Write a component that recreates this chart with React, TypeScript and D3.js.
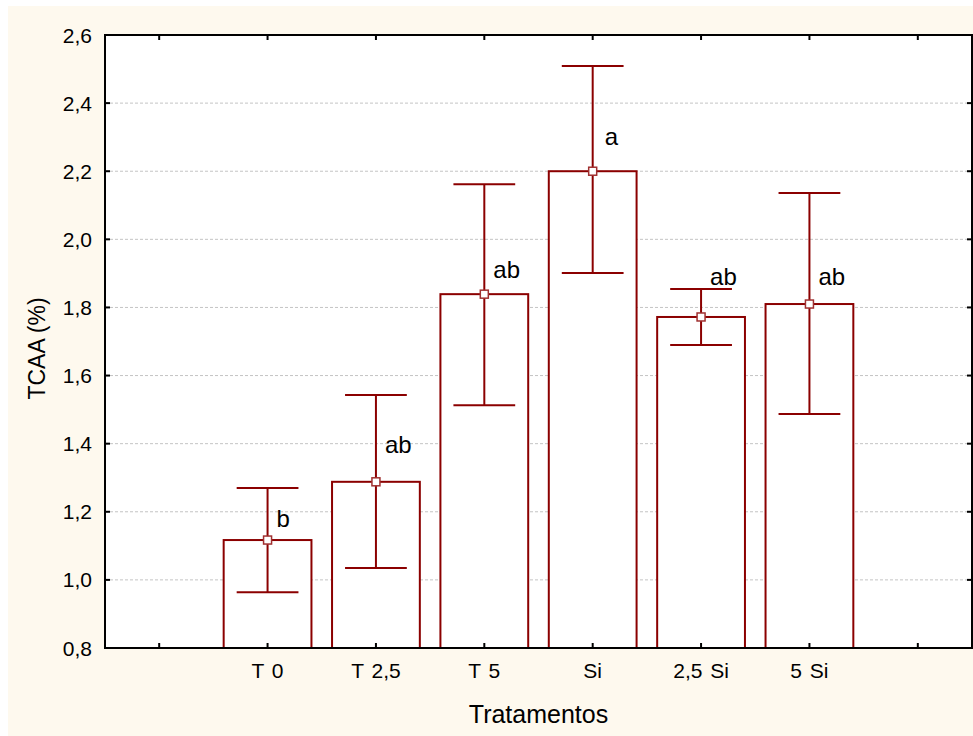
import React, { useEffect, useRef } from "react";
import * as d3 from "d3";

// treatments (first and last slots are empty on the axis)
const categories = ["", "T 0", "T 2,5", "T 5", "Si", "2,5 Si", "5 Si", " "];
const treatments = ["T 0", "T 2,5", "T 5", "Si", "2,5 Si", "5 Si"];
const means = [1.117, 1.288, 1.839, 2.2, 1.772, 1.81];
const upper = [1.27, 1.543, 2.162, 2.509, 1.854, 2.136];
const lower = [0.964, 1.035, 1.513, 1.901, 1.69, 1.487];
const letters = ["b", "ab", "ab", "a", "ab", "ab"];
const letterAt = [1.155, 1.373, 1.886, 2.277, 1.866, 1.866];
const yTicks = [0.8, 1.0, 1.2, 1.4, 1.6, 1.8, 2.0, 2.2, 2.4, 2.6];

export default function App() {
  const svgRef = useRef<SVGSVGElement>(null);

  useEffect(() => {
    const svg = d3.select(svgRef.current);
    const width = 973;
    const height = 736;
    const margin = { top: 35, right: 1, bottom: 88, left: 105 };
    const innerWidth = width - margin.left - margin.right;
    const innerHeight = height - margin.top - margin.bottom;
    const red = "#8b0000";
    const font = "Arial, 'Liberation Sans', sans-serif";

    svg.selectAll("*").remove();

    // cream page background
    svg
      .append("rect")
      .attr("x", 8)
      .attr("y", 6)
      .attr("width", width - 8)
      .attr("height", height - 6)
      .attr("fill", "#fef9ee");

    const xScale = d3
      .scaleBand()
      .domain(categories)
      .range([0, innerWidth])
      .padding(0);
    const band = xScale.bandwidth();
    const cx = (d: string) => (xScale(d) as number) + band / 2;

    const yScale = d3.scaleLinear().domain([0.8, 2.6]).range([innerHeight, 0]);

    const g = svg
      .append("g")
      .attr("transform", `translate(${margin.left},${margin.top})`);

    g.append("rect")
      .attr("width", innerWidth)
      .attr("height", innerHeight)
      .attr("fill", "#ffffff");

    // dashed gridlines
    g.selectAll(".grid")
      .data(yTicks.slice(1, -1))
      .enter()
      .append("line")
      .attr("x1", 0)
      .attr("x2", innerWidth)
      .attr("y1", (d) => yScale(d))
      .attr("y2", (d) => yScale(d))
      .attr("stroke", "#c4c4c4")
      .attr("stroke-width", 1)
      .attr("stroke-dasharray", "3,2");

    // bars
    const rows = treatments.map((t, i) => ({
      name: t,
      mean: means[i],
      hi: upper[i],
      lo: lower[i],
      letter: letters[i],
      at: letterAt[i],
    }));
    const barW = band * 0.81;
    const capW = band * 0.57;

    g.selectAll(".bar")
      .data(rows)
      .enter()
      .append("rect")
      .attr("x", (d) => cx(d.name) - barW / 2)
      .attr("y", (d) => yScale(d.mean))
      .attr("width", barW)
      .attr("height", (d) => innerHeight - yScale(d.mean))
      .attr("fill", "#ffffff")
      .attr("stroke", red)
      .attr("stroke-width", 2);

    // error bars
    const err = g.selectAll(".err").data(rows).enter().append("g");
    err
      .append("line")
      .attr("x1", (d) => cx(d.name))
      .attr("x2", (d) => cx(d.name))
      .attr("y1", (d) => yScale(d.hi))
      .attr("y2", (d) => yScale(d.lo))
      .attr("stroke", red)
      .attr("stroke-width", 2);
    [(d: any) => d.hi, (d: any) => d.lo].forEach((acc) => {
      err
        .append("line")
        .attr("x1", (d) => cx(d.name) - capW / 2)
        .attr("x2", (d) => cx(d.name) + capW / 2)
        .attr("y1", (d) => yScale(acc(d)))
        .attr("y2", (d) => yScale(acc(d)))
        .attr("stroke", red)
        .attr("stroke-width", 2);
    });
    err
      .append("rect")
      .attr("x", (d) => cx(d.name) - 4)
      .attr("y", (d) => yScale(d.mean) - 4)
      .attr("width", 8)
      .attr("height", 8)
      .attr("fill", "#ffffff")
      .attr("stroke", "#a03030")
      .attr("stroke-width", 1.5);

    // significance letters
    g.selectAll(".letter")
      .data(rows)
      .enter()
      .append("text")
      .attr("x", (d) => cx(d.name) + (d.letter === "a" ? 12 : 9))
      .attr("y", (d) => yScale(d.at))
      .attr("font-family", font)
      .attr("font-size", 24)
      .attr("fill", "#000")
      .text((d) => d.letter);

    // axes frame with inward ticks
    const tick = 5;
    const axisColor = "#000";
    const frame = g.append("g");
    frame
      .append("rect")
      .attr("width", innerWidth)
      .attr("height", innerHeight)
      .attr("fill", "none")
      .attr("stroke", axisColor)
      .attr("stroke-width", 2);

    frame
      .selectAll(".yt")
      .data(yTicks)
      .enter()
      .append("g")
      .each(function (d) {
        const s = d3.select(this);
        const y = yScale(d);
        s.append("line").attr("x1", 0).attr("x2", tick).attr("y1", y).attr("y2", y).attr("stroke", axisColor).attr("stroke-width", 2);
        s.append("line").attr("x1", innerWidth).attr("x2", innerWidth - tick).attr("y1", y).attr("y2", y).attr("stroke", axisColor).attr("stroke-width", 2);
      });

    frame
      .selectAll(".xt")
      .data(categories)
      .enter()
      .append("g")
      .each(function (d) {
        const s = d3.select(this);
        const x = cx(d);
        s.append("line").attr("x1", x).attr("x2", x).attr("y1", innerHeight).attr("y2", innerHeight - tick).attr("stroke", axisColor).attr("stroke-width", 2);
        s.append("line").attr("x1", x).attr("x2", x).attr("y1", 0).attr("y2", tick).attr("stroke", axisColor).attr("stroke-width", 2);
      });

    // tick labels
    g.selectAll(".ylab")
      .data(yTicks)
      .enter()
      .append("text")
      .attr("x", -13)
      .attr("y", (d) => yScale(d))
      .attr("dy", "0.36em")
      .attr("text-anchor", "end")
      .attr("font-family", font)
      .attr("font-size", 21)
      .text((d) => d3.format(".1f")(d).replace(".", ","));

    g.selectAll(".xlab")
      .data(treatments)
      .enter()
      .append("text")
      .attr("x", (d) => cx(d))
      .attr("y", innerHeight + 30)
      .attr("text-anchor", "middle")
      .attr("font-family", font)
      .attr("font-size", 21)
      .attr("word-spacing", 2)
      .text((d) => d);

    // axis titles
    g.append("text")
      .attr("x", innerWidth / 2)
      .attr("y", innerHeight + 75)
      .attr("text-anchor", "middle")
      .attr("font-family", font)
      .attr("font-size", 25)
      .text("Tratamentos");

    g.append("text")
      .attr("transform", `translate(${45 - margin.left},${innerHeight / 2 + 7}) rotate(-90)`)
      .attr("text-anchor", "middle")
      .attr("font-family", font)
      .attr("font-size", 23)
      .text("TCAA (%)");
  }, []);

  return (
    <svg
      ref={svgRef}
      width={973}
      height={736}
      style={{ position: "absolute", left: 0, top: 0, background: "#ffffff" }}
    />
  );
}
